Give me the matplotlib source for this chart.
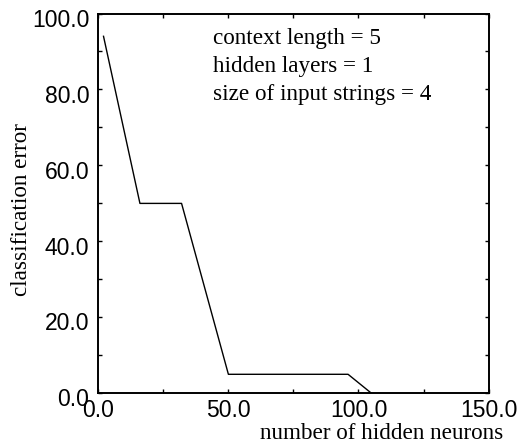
import matplotlib
matplotlib.use('Agg')
import matplotlib.pyplot as plt
import matplotlib.transforms as mtransforms
from matplotlib.ticker import MultipleLocator, FormatStrFormatter

# data
hidden_neurons = [2, 16, 32, 50, 96, 105]
class_error = [94, 50, 50, 5, 5, 0]
notes = ['context length = 5', 'hidden layers = 1', 'size of input strings = 4']

fig = plt.figure(figsize=(5.21, 4.46), dpi=100)
ax = fig.add_axes([0.1887, 0.1182, 0.749, 0.8515])

ax.plot(hidden_neurons, class_error, color='black', linewidth=1.0)

ax.set_xlim(0, 150)
ax.set_ylim(0, 100)
ax.xaxis.set_major_locator(MultipleLocator(50))
ax.xaxis.set_minor_locator(MultipleLocator(25))
ax.yaxis.set_major_locator(MultipleLocator(20))
ax.yaxis.set_minor_locator(MultipleLocator(10))
ax.xaxis.set_major_formatter(FormatStrFormatter('%.1f'))
ax.yaxis.set_major_formatter(FormatStrFormatter('%.1f'))

for s in ax.spines.values():
    s.set_linewidth(1.4)
ax.tick_params(which='both', direction='in', top=True, right=True,
               length=2.6, width=1.0)
ax.tick_params(axis='x', which='major', pad=4.2)
ax.tick_params(axis='y', which='major', pad=6.5)
for lab in ax.get_xticklabels() + ax.get_yticklabels():
    lab.set_fontfamily('Liberation Sans')
    lab.set_fontsize(16.5)

# y tick labels sit a little below their ticks in the original
shift = mtransforms.ScaledTranslation(0, -3 / 72, fig.dpi_scale_trans)
for lab in ax.get_yticklabels():
    lab.set_transform(lab.get_transform() + shift)

# annotation lines
ypos = [0.920, 0.846, 0.772]
for txt, yy in zip(notes, ypos):
    ax.text(0.2947, yy, txt, transform=ax.transAxes, family='Liberation Serif',
            fontsize=16.7, va='baseline', ha='left')

fig.text(0.9664, 0.0157, 'number of hidden neurons', family='Liberation Serif',
         fontsize=16.7, ha='right', va='baseline')
fig.text(0.061, 0.531, 'classification error', family='Liberation Serif',
         fontsize=16.7, rotation=90, ha='right', va='center')

fig.savefig('out.png', dpi=100)
